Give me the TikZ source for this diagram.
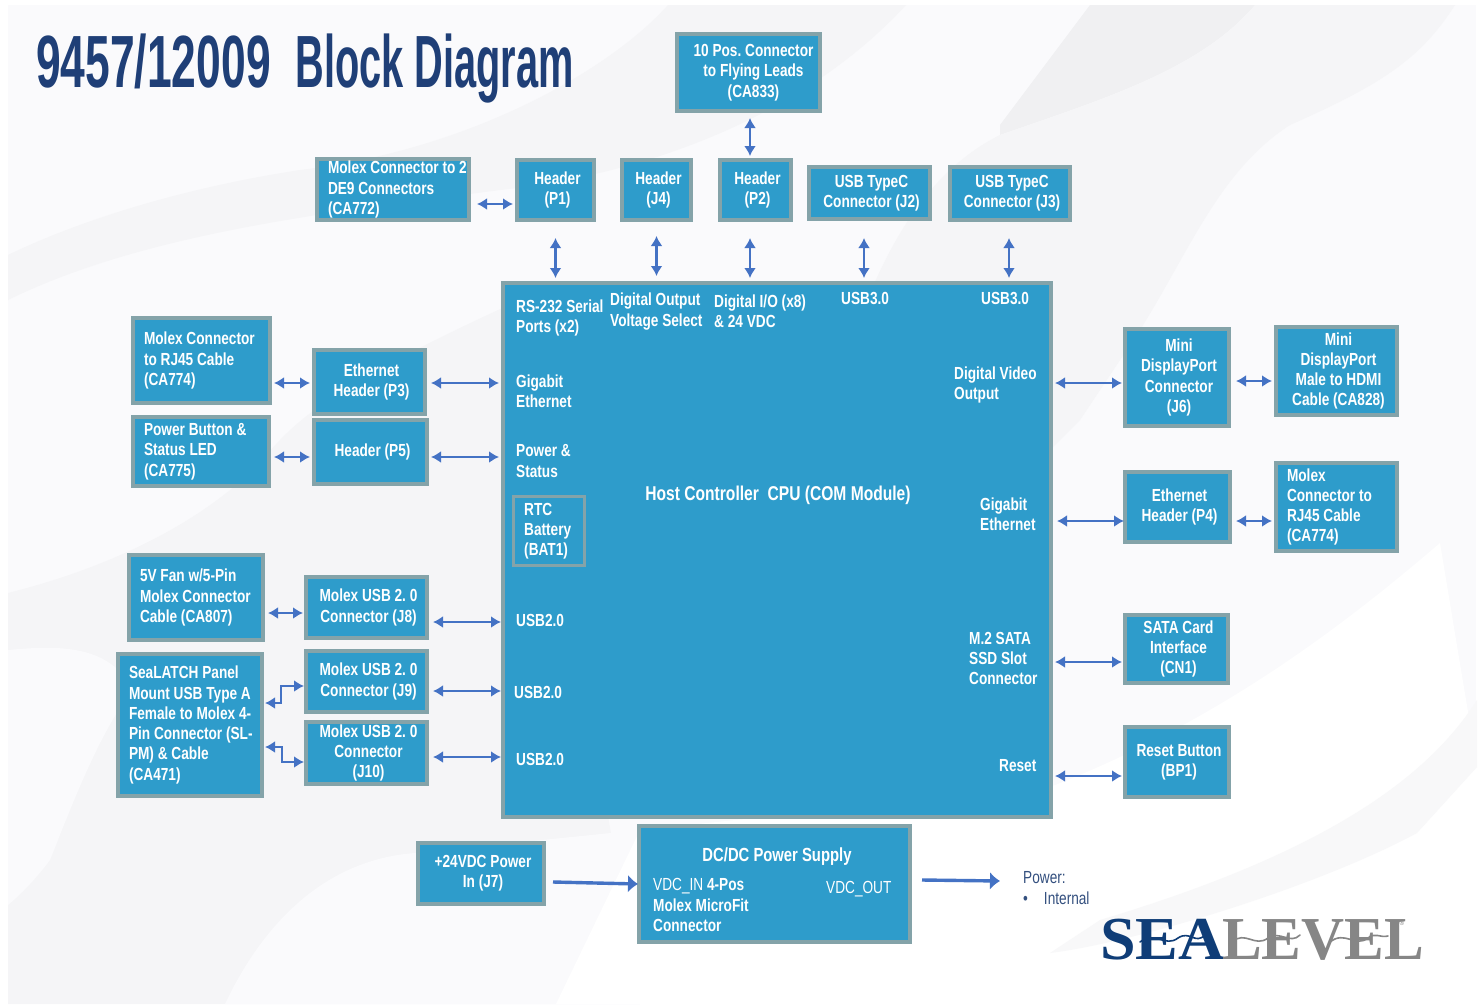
\documentclass[tikz,border=0pt]{standalone}
\usepackage{fontspec}
\setmainfont[FakeStretch=0.78]{Liberation Sans}
\newfontfamily\titlefont[FakeStretch=0.60]{Liberation Sans}
\newfontfamily\titlewords[FakeStretch=0.537]{Liberation Sans}
\newfontfamily\logofont[FakeStretch=1.05]{Liberation Serif}
\newfontfamily\logonarrow[FakeStretch=0.975]{Liberation Serif}
\usetikzlibrary{arrows.meta}

\definecolor{boxblue}{HTML}{2E9CCB}
\definecolor{boxrim}{HTML}{84A3A9}
\definecolor{linkblue}{HTML}{4472C4}
\definecolor{titleblue}{HTML}{1F3F77}
\definecolor{powerblue}{HTML}{34507F}
\definecolor{logoblue}{HTML}{0F3D77}
\definecolor{logogray}{HTML}{868686}
\definecolor{paper}{HTML}{FAFAFC}
\definecolor{sweep}{HTML}{F5F5F7}
\definecolor{sweepdark}{HTML}{F0F0F2}

\tikzset{
  block/.style={draw=boxrim, line width=4pt, fill=boxblue, text=white, inner sep=0pt,
    font=\fontsize{17.5}{20.3}\selectfont\bfseries},
  cbox/.style 2 args={minimum width=#1pt-4pt, minimum height=#2pt-4pt, text width=#1pt-10pt,
    execute at begin node={\centering\advance\leftskip by 4pt\spaceskip=3.8pt\xspaceskip=3.8pt}},
  lbox/.style 2 args={minimum width=#1pt-4pt, minimum height=#2pt-4pt, text width=#1pt-26pt, align=left,
    execute at begin node={\spaceskip=3.8pt\xspaceskip=3.8pt}},
  hosttext/.style={text=white, inner sep=0pt, anchor=west, align=left,
    font=\fontsize{17.5}{20.3}\selectfont\bfseries},
  link/.style={draw=linkblue, line width=2.8pt, {Latex[length=10pt,width=12pt]}-{Latex[length=10pt,width=12pt]}},
  feed/.style={draw=linkblue, line width=3.4pt, -{Latex[length=10pt,width=18pt]}},
  wave/.style={line width=1.6pt, line cap=round},
}

\begin{document}
\begin{tikzpicture}[x=1pt, y=-1pt]
  \useasboundingbox (0,0) rectangle (1483,1004);

  % background sweeps
  \fill[white] (0,0) rectangle (1483,1004);
  \fill[paper] (8,5) rectangle (1476,1004);
  \fill[sweep] (668,5) .. controls (610,70) and (470,150) .. (300,170)
    .. controls (170,190) and (70,225) .. (8,255) -- (8,300)
    .. controls (150,230) and (350,210) .. (500,190)
    .. controls (640,175) and (800,120) .. (906,5) -- cycle;
  \fill[sweepdark] (1090,5) -- (1000,125) -- (1000,135)
    .. controls (1100,100) and (1200,70) .. (1255,5) -- cycle;
  \fill[sweep] (1255,5) .. controls (1200,70) and (1100,100) .. (1000,135)
    .. controls (930,170) and (890,240) .. (860,318) -- (1000,500) -- (1080,420)
    -- (1140,330) .. controls (1190,250) and (1220,170) .. (1290,125)
    .. controls (1380,85) and (1420,60) .. (1455,5) -- cycle;
  \fill[sweep] (8,593) .. controls (100,570) and (190,530) .. (253,470)
    .. controls (290,430) and (300,400) .. (520,300) -- (640,1004) -- (8,1004) -- cycle;
  \fill[paper] (8,650) .. controls (60,645) and (110,645) .. (133,690)
    .. controls (100,730) and (70,810) .. (50,860) .. controls (35,880) and (20,895) .. (8,905) -- cycle;
  \fill[paper] (225,1004) .. controls (260,930) and (320,860) .. (415,853)
    -- (640,830) -- (640,1004) -- cycle;
  \fill[white] (1440,543) .. controls (1350,620) and (1223,720) .. (1050,787)
    -- (640,830) -- (556,1004) -- (1476,1004) -- (1476,760) -- cycle;
  \fill[sweepdark!50!white] (1477,700) .. controls (1420,790) and (1300,860) .. (1100,920)
    -- (1050,953) .. controls (1133,943) and (1317,887) .. (1417,833)
    -- (1477,767) -- cycle;

  % title
  \node[text=titleblue, inner sep=0pt, anchor=west, font=\fontsize{74}{74}\selectfont\bfseries] (title) at (36,69) {\titlefont\bfseries 9457/12009\ \ \titlewords\bfseries Block Diagram};

  % top row
  \node[block, cbox={147}{81}] (ca833) at (748.5,72.5) {\hspace*{6pt}10 Pos. Connector\\\hspace*{6pt}to Flying Leads\\\hspace*{6pt}(CA833)};
  \node[block, lbox={156}{65}] (ca772) at (393,189.5) {\mbox{Molex Connector to 2}\\DE9 Connectors\\(CA772)};
  \node[block, cbox={81}{64}] (p1) at (555.5,190) {Header\\(P1)};
  \node[block, cbox={73}{64}] (j4) at (656.5,190) {Header\\(J4)};
  \node[block, cbox={75}{64}] (p2) at (755.5,190) {Header\\(P2)};
  \node[block, cbox={125}{56}] (j2) at (869.5,193) {USB TypeC\\Connector (J2)};
  \node[block, cbox={124}{57}] (j3) at (1010,193.5) {USB TypeC\\Connector (J3)};

  % host controller
  \node[block, cbox={552}{538}] (host) at (777,550) {};
  \node[hosttext, anchor=center, font=\fontsize{20}{22}\selectfont\bfseries] (cpu) at (778,495) {Host Controller\ \ CPU (COM Module)};
  \node[hosttext] (serial) at (516,318) {RS-232 Serial\\Ports (x2)};
  \node[hosttext] (dout) at (610,311.5) {Digital Output\\Voltage Select};
  \node[hosttext] (dio) at (714,311.5) {Digital I/O (x8)\\\& 24 VDC};
  \node[hosttext] (usba) at (841,298) {USB3.0};
  \node[hosttext] (usbb) at (981,298) {USB3.0};
  \node[hosttext] (gbe) at (516,391) {Gigabit\\Ethernet};
  \node[hosttext] (pwr) at (516,461) {Power \&\\Status};
  \node[draw=boxrim, line width=3pt, minimum width=71pt, minimum height=69pt, inner sep=0pt] (bat1) at (548.5,531) {};
  \node[hosttext] (rtc) at (524,531) {RTC\\Battery\\(BAT1)};
  \node[hosttext] (usbc) at (516,620) {USB2.0};
  \node[hosttext] (usbd) at (514,692) {USB2.0};
  \node[hosttext] (usbe) at (516,759) {USB2.0};
  \node[hosttext] (video) at (954,385) {Digital Video\\Output};
  \node[hosttext] (gbf) at (980,514) {Gigabit\\Ethernet};
  \node[hosttext] (sata) at (969,658.5) {M.2 SATA\\SSD Slot\\Connector};
  \node[hosttext] (rst) at (999,766) {Reset};

  % left side
  \node[block, lbox={141}{89}] (ca774a) at (201.5,360.5) {Molex Connector\\to RJ45 Cable\\(CA774)};
  \node[block, cbox={115}{68}] (p3) at (369.5,382) {Ethernet\\Header (P3)};
  \node[block, lbox={140}{73}] (ca775) at (201,451.5) {Power Button \&\\Status LED\\(CA775)};
  \node[block, cbox={117}{68}] (p5) at (370.5,452) {Header (P5)};
  \node[block, lbox={138}{89}] (ca807) at (196,597.5) {5V Fan w/5-Pin\\\mbox{Molex Connector}\\Cable (CA807)};
  \node[block, cbox={125}{65}] (j8) at (366.5,607.5) {Molex USB 2. 0\\Connector (J8)};
  \node[block, lbox={148}{146}] (ca471) at (190,725) {SeaLATCH Panel\\\mbox{Mount USB Type A}\\\mbox{Female to Molex 4-}\\\mbox{Pin Connector (SL-}\\PM) \& Cable\\(CA471)};
  \node[block, cbox={125}{65}] (j9) at (366.5,681.5) {Molex USB 2. 0\\Connector (J9)};
  \node[block, cbox={125}{66}] (j10) at (366.5,753) {Molex USB 2. 0\\Connector\\(J10)};

  % right side
  \node[block, cbox={108}{101}] (j6) at (1177,377.5) {Mini\\DisplayPort\\Connector\\(J6)};
  \node[block, cbox={125}{92}] (ca828) at (1336.5,371) {Mini\\DisplayPort\\Male to HDMI\\Cable (CA828)};
  \node[block, cbox={109}{74}] (p4) at (1177.5,507) {Ethernet\\Header (P4)};
  \node[block, lbox={125}{92}] (ca774b) at (1336.5,507) {Molex\\Connector to\\RJ45 Cable\\(CA774)};
  \node[block, cbox={107}{72}] (cn1) at (1176.5,649) {SATA Card\\Interface\\(CN1)};
  \node[block, cbox={108}{74}] (bp1) at (1177,762) {Reset Button\\(BP1)};

  % power
  \node[block, cbox={130}{65}] (j7) at (481,873.5) {+24VDC Power\\In (J7)};
  \node[block, cbox={275}{120}] (dcdc) at (774.5,884) {};
  \node[hosttext, anchor=center, font=\fontsize{19}{22}\selectfont\bfseries] (dctitle) at (777,857) {DC/DC Power Supply};
  \node[hosttext] (vin) at (653,905) {{\mdseries VDC\_IN} 4-Pos\\Molex MicroFit\\Connector};
  \node[hosttext, font=\fontsize{17.5}{20.3}\selectfont] (vout) at (826,889) {VDC\_OUT};
  \node[text=powerblue, inner sep=0pt, anchor=west, align=left, font=\fontsize{17.5}{20.3}\selectfont] (powerlist) at (1023,888) {Power:\\\textbullet\hspace{16pt}Internal};

  % logo
  \node[inner sep=0pt, anchor=west, text=logoblue, font=\fontsize{61}{61}\selectfont\bfseries\logofont] (logosea) at (1100,940) {SEA};
  \node[inner sep=0pt, anchor=west, text=logogray, font=\fontsize{61}{61}\selectfont\bfseries\logonarrow] (loglevel) at (1222,940) {LEVEL};
  \node[inner sep=0pt, text=logogray, font=\fontsize{8}{8}\selectfont] (logomark) at (1402,923) {\textregistered};
  \draw[wave, logoblue] (1140,942) .. controls (1155,930) and (1165,948) .. (1178,938) .. controls (1190,930) and (1195,945) .. (1205,935);
  \draw[wave, logogray] (1232,942) .. controls (1245,930) and (1255,948) .. (1268,938) .. controls (1280,930) and (1290,945) .. (1300,935);
  \draw[wave, logogray] (1330,942) .. controls (1345,930) and (1355,948) .. (1368,938) .. controls (1375,932) and (1380,938) .. (1388,936);

  % links
  \draw[link] ([xshift=1.5pt,yshift=-5pt]ca833.south) -- ([xshift=-5.5pt,yshift=2pt]p2.north);
  \draw[link] ([xshift=6pt,yshift=-14.5pt]ca772.east) -- ([xshift=-2pt,yshift=-14pt]p1.west);
  \draw[link] ([yshift=-16pt]p1.south) -- ([yshift=3pt]p1.south |- host.north);
  \draw[link] ([yshift=-14pt]j4.south) -- ([yshift=5pt]j4.south |- host.north);
  \draw[link] ([xshift=-5.5pt,yshift=-16pt]p2.south) -- ([xshift=-5.5pt,yshift=3pt]p2.south |- host.north);
  \draw[link] ([xshift=-5.5pt,yshift=-17pt]j2.south) -- ([xshift=-5.5pt,yshift=3pt]j2.south |- host.north);
  \draw[link] ([xshift=-1pt,yshift=-16pt]j3.south) -- ([xshift=-1pt,yshift=3pt]j3.south |- host.north);
  \draw[link] ([xshift=2pt,yshift=-22.5pt]ca774a.east) -- ([xshift=-2pt,yshift=-1pt]p3.west);
  \draw[link] ([xshift=4pt,yshift=-1pt]p3.east) -- ([xshift=-2pt,yshift=-1pt]p3.east -| host.west);
  \draw[link] ([xshift=3pt,yshift=-5.5pt]ca775.east) -- ([xshift=-2pt,yshift=-5pt]p5.west);
  \draw[link] ([xshift=2pt,yshift=-5pt]p5.east) -- ([xshift=-2pt,yshift=-5pt]p5.east -| host.west);
  \draw[link] ([xshift=3pt,yshift=-15.5pt]ca807.east) -- ([xshift=-1pt,yshift=-5.5pt]j8.west);
  \draw[link] ([xshift=4pt,yshift=-14.5pt]j8.east) -- ([yshift=-14.5pt]j8.east -| host.west);
  \draw[link] ([xshift=4pt,yshift=-9.5pt]j9.east) -- ([yshift=-9.5pt]j9.east -| host.west);
  \draw[link] ([xshift=4pt,yshift=-4pt]j10.east) -- ([yshift=-4pt]j10.east -| host.west);
  \draw[link] ([xshift=1pt,yshift=22pt]ca471.east) -- ++(16,0) |- ([yshift=-4.5pt]j9.west);
  \draw[link] ([xshift=1pt,yshift=-22pt]ca471.east) -- ++(17,0) |- ([yshift=-9pt]j10.west);
  \draw[link] ([xshift=2pt,yshift=-5.5pt]host.east |- j6.east) -- ([xshift=-1pt,yshift=-5.5pt]j6.west);
  \draw[link] ([xshift=5pt,yshift=-3.5pt]j6.east) -- ([xshift=-2pt,yshift=-10pt]ca828.west);
  \draw[link] ([xshift=4pt,yshift=-14pt]host.east |- p4.west) -- ([xshift=1pt,yshift=-14pt]p4.west);
  \draw[link] ([xshift=4pt,yshift=-14pt]p4.east) -- ([xshift=-2pt,yshift=-14pt]ca774b.west);
  \draw[link] ([xshift=2pt,yshift=-13pt]host.east |- cn1.west) -- ([xshift=-1pt,yshift=-13pt]cn1.west);
  \draw[link] ([xshift=2pt,yshift=-14pt]host.east |- bp1.west) -- ([xshift=-1pt,yshift=-14pt]bp1.west);
  \draw[feed] ([xshift=7pt,yshift=-8.5pt]j7.east) -- ([xshift=1pt]dcdc.west);
  \coordinate (powerend) at (1000,881);
  \draw[feed] ([xshift=10pt,yshift=4pt]dcdc.east) -- (powerend);

\end{tikzpicture}
\end{document}
